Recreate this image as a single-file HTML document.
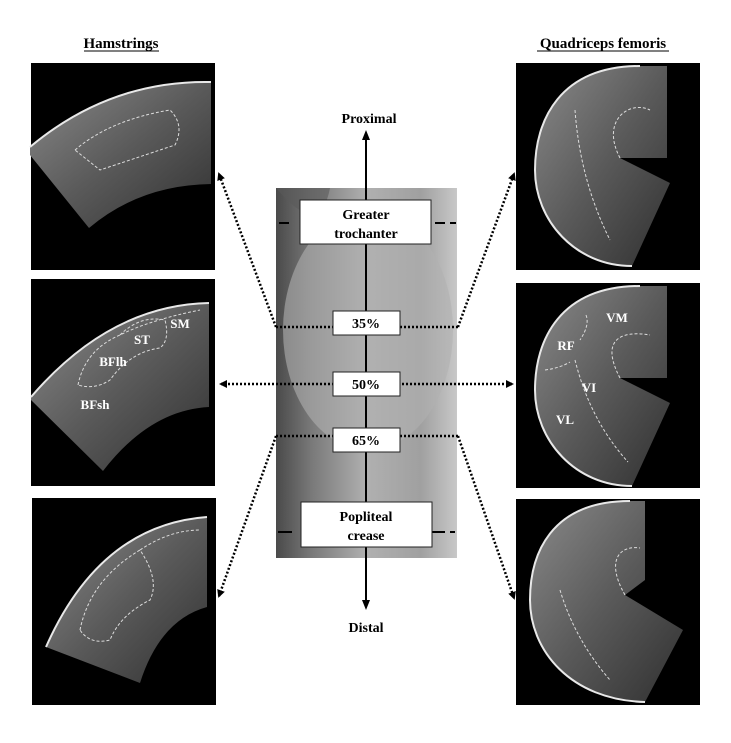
<!DOCTYPE html>
<html><head><meta charset="utf-8"><style>
html,body{margin:0;padding:0;background:#fff}
svg{display:block}
text{font-family:"Liberation Serif",serif;font-weight:bold}
</style></head><body>
<svg width="731" height="743" viewBox="0 0 731 743" xmlns="http://www.w3.org/2000/svg">
<defs>
<linearGradient id="us" x1="0" y1="0" x2="1" y2="1">
<stop offset="0" stop-color="#8a8a8a"/><stop offset="0.5" stop-color="#5a5a5a"/><stop offset="1" stop-color="#303030"/></linearGradient>
<linearGradient id="ph" x1="0" y1="0" x2="1" y2="0">
<stop offset="0" stop-color="#4a4a4a"/><stop offset="0.2" stop-color="#7a7a7a"/><stop offset="0.5" stop-color="#b0b0b0"/><stop offset="0.8" stop-color="#a0a0a0"/><stop offset="1" stop-color="#c8c8c8"/></linearGradient>
<marker id="ah" markerWidth="8" markerHeight="8" refX="6" refY="4" orient="auto" markerUnits="userSpaceOnUse"><path d="M0,0 L8,4 L0,8 Z" fill="#000"/></marker>
</defs>

<text x="121" y="48" font-size="15" text-anchor="middle">Hamstrings</text>
<line x1="84" y1="51" x2="159" y2="51" stroke="#000" stroke-width="1"/>
<text x="603" y="48" font-size="15" text-anchor="middle">Quadriceps femoris</text>
<line x1="537" y1="51" x2="669" y2="51" stroke="#000" stroke-width="1"/>

<rect x="31" y="63" width="184" height="207" fill="#000"/>
<path d="M30,147 Q110,80 211,82 L211,184 Q140,185 89,228 L30,155 Z" fill="url(#us)"/>
<path d="M30,147 Q110,80 211,82" fill="none" stroke="#e8e8e8" stroke-width="2"/>
<path d="M75,150 Q110,120 170,110 Q185,125 175,145 Q130,160 100,170 Z" fill="none" stroke="#ddd" stroke-width="1" stroke-dasharray="3 2"/>
<rect x="31" y="279" width="184" height="207" fill="#000"/>
<path d="M31,397 Q110,305 209,303 L209,407 Q150,410 103,471 L31,400 Z" fill="url(#us)"/>
<path d="M31,397 Q110,305 209,303" fill="none" stroke="#e8e8e8" stroke-width="2"/>
<path d="M78,385 Q85,350 120,335 Q150,320 200,310 M120,335 Q140,315 165,320 Q170,340 160,348 Q130,352 110,380 Q95,390 78,385" fill="none" stroke="#ddd" stroke-width="1" stroke-dasharray="3 2"/>
<text x="180" y="328" font-size="13" fill="#fff" text-anchor="middle">SM</text>
<text x="142" y="344" font-size="13" fill="#fff" text-anchor="middle">ST</text>
<text x="113" y="366" font-size="13" fill="#fff" text-anchor="middle">BFlh</text>
<text x="95" y="409" font-size="13" fill="#fff" text-anchor="middle">BFsh</text>
<rect x="32" y="498" width="184" height="207" fill="#000"/>
<path d="M46,647 Q100,525 207,517 L207,607 Q160,620 140,683 L46,647 Z" fill="url(#us)"/>
<path d="M46,647 Q100,525 207,517" fill="none" stroke="#e8e8e8" stroke-width="2"/>
<path d="M80,630 Q90,580 140,550 Q160,580 150,600 Q120,615 110,640 Q90,645 80,630 M140,550 Q170,530 200,530" fill="none" stroke="#ddd" stroke-width="1" stroke-dasharray="3 2"/>

<rect x="516" y="63" width="184" height="207" fill="#000"/>
<path d="M667,66 L640,66 C560,66 535,120 535,170 C535,220 575,266 632,266 L670,183 L620,158 L667,158 Z" fill="url(#us)"/>
<path d="M640,66 C560,66 535,120 535,170 C535,220 575,266 632,266" fill="none" stroke="#e8e8e8" stroke-width="2"/>
<path d="M620,158 C600,120 630,100 650,110 M575,110 Q580,180 610,240" fill="none" stroke="#ddd" stroke-width="1" stroke-dasharray="3 2"/>
<rect x="516" y="283" width="184" height="205" fill="#000"/>
<path d="M667,286 L640,286 C560,286 535,340 535,390 C535,440 575,486 632,486 L670,403 L620,378 L667,378 Z" fill="url(#us)"/>
<path d="M640,286 C560,286 535,340 535,390 C535,440 575,486 632,486" fill="none" stroke="#e8e8e8" stroke-width="2"/>
<path d="M620,378 C600,340 620,330 650,335 M575,360 Q590,420 628,462 M545,370 Q560,368 570,362 M586,315 Q590,325 580,340" fill="none" stroke="#ddd" stroke-width="1" stroke-dasharray="3 2"/>
<text x="617" y="322" font-size="13" fill="#fff" text-anchor="middle">VM</text>
<text x="566" y="350" font-size="13" fill="#fff" text-anchor="middle">RF</text>
<text x="589" y="392" font-size="13" fill="#fff" text-anchor="middle">VI</text>
<text x="565" y="424" font-size="13" fill="#fff" text-anchor="middle">VL</text>
<rect x="516" y="499" width="184" height="206" fill="#000"/>
<path d="M645,501 L630,501 C550,501 530,555 530,600 C530,650 570,700 645,702 L683,630 L625,595 L645,580 Z" fill="url(#us)"/>
<path d="M630,501 C550,501 530,555 530,600 C530,650 570,700 645,702" fill="none" stroke="#e8e8e8" stroke-width="2"/>
<path d="M625,595 C605,560 620,545 640,548 M560,590 Q575,640 610,680" fill="none" stroke="#ddd" stroke-width="1" stroke-dasharray="3 2"/>

<rect x="276" y="188" width="181" height="370" fill="url(#ph)"/>
<ellipse cx="368" cy="330" rx="85" ry="120" fill="#b0b0b0" opacity="0.6"/>
<path d="M276,188 Q320,240 330,188 Z" fill="#5a5a5a" opacity="0.6"/>

<line x1="366" y1="135" x2="366" y2="600" stroke="#000" stroke-width="2"/>
<path d="M362,140 L366,130 L370,140 Z" fill="#000"/>
<path d="M362,600 L366,610 L370,600 Z" fill="#000"/>
<text x="369" y="123" font-size="14" text-anchor="middle">Proximal</text>
<text x="366" y="632" font-size="14" text-anchor="middle">Distal</text>

<g stroke="#000" stroke-width="2">
<line x1="279" y1="223" x2="289" y2="223"/><line x1="435" y1="223" x2="445" y2="223"/><line x1="450" y1="223" x2="456" y2="223"/>
<line x1="278" y1="532" x2="292" y2="532"/><line x1="432" y1="532" x2="445" y2="532"/><line x1="450" y1="532" x2="455" y2="532"/>
</g>

<g stroke="#000" stroke-width="2.5" stroke-dasharray="2 2" fill="none">
<line x1="276" y1="327" x2="458" y2="327"/>
<line x1="276" y1="436" x2="458" y2="436"/>
<line x1="276" y1="327" x2="219" y2="174" marker-end="url(#ah)"/>
<line x1="458" y1="327" x2="514" y2="174" marker-end="url(#ah)"/>
<line x1="366" y1="384" x2="221" y2="384" marker-end="url(#ah)"/>
<line x1="366" y1="384" x2="512" y2="384" marker-end="url(#ah)"/>
<line x1="276" y1="436" x2="219" y2="596" marker-end="url(#ah)"/>
<line x1="458" y1="436" x2="514" y2="598" marker-end="url(#ah)"/>
</g>

<rect x="300" y="200" width="131" height="44" fill="#fff" stroke="#222" stroke-width="1"/>
<text x="366" y="219" font-size="14" text-anchor="middle">Greater</text>
<text x="366" y="238" font-size="14" text-anchor="middle">trochanter</text>
<rect x="333" y="311" width="67" height="24" fill="#fff" stroke="#222" stroke-width="1"/>
<text x="366" y="328" font-size="14" text-anchor="middle">35%</text>
<rect x="333" y="372" width="67" height="24" fill="#fff" stroke="#222" stroke-width="1"/>
<text x="366" y="389" font-size="14" text-anchor="middle">50%</text>
<rect x="333" y="428" width="67" height="24" fill="#fff" stroke="#222" stroke-width="1"/>
<text x="366" y="445" font-size="14" text-anchor="middle">65%</text>
<rect x="301" y="502" width="131" height="45" fill="#fff" stroke="#222" stroke-width="1"/>
<text x="366" y="521" font-size="14" text-anchor="middle">Popliteal</text>
<text x="366" y="540" font-size="14" text-anchor="middle">crease</text>
</svg>
</body></html>
